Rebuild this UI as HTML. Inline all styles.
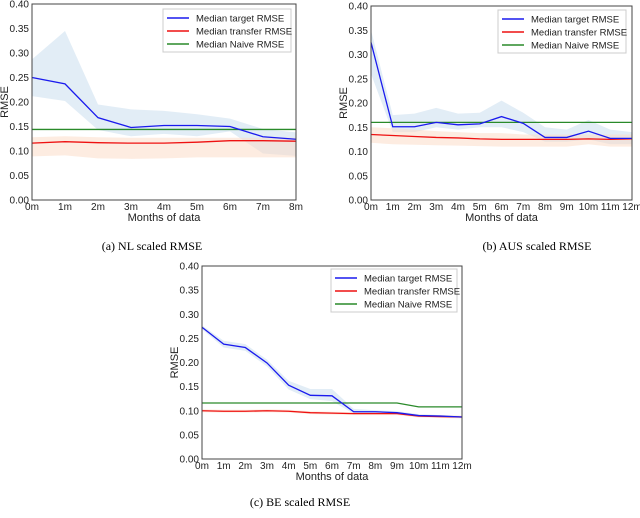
<!DOCTYPE html>
<html><head><meta charset="utf-8"><style>
body{margin:0;background:#fff;width:640px;height:513px;overflow:hidden}
svg{font-family:"Liberation Sans",sans-serif}
.cap{font-family:"Liberation Serif",serif;font-size:12px}
</style></head><body>
<svg id="s" width="640" height="513"></svg>
<script>
const nlCats=["0m","1m","2m","3m","4m","5m","6m","7m","8m"];
const nlTarget=[.25,.237,.168,.148,.152,.152,.150,.129,.124];
const nlTargetHi=[.287,.345,.195,.185,.182,.175,.166,.145,.138];
const nlTargetLo=[.212,.202,.143,.130,.135,.130,.140,.095,.09];
const nlTransfer=[.116,.119,.117,.116,.116,.118,.121,.121,.120];
const nlTransferHi=[.128,.130,.128,.127,.127,.127,.127,.127,.127];
const nlTransferLo=[.089,.091,.085,.084,.085,.087,.087,.087,.087];
const nlNaive=[.144,.144,.144,.144,.144,.144,.144,.144,.144];

const ausCats=["0m","1m","2m","3m","4m","5m","6m","7m","8m","9m","10m","11m","12m"];
const ausTarget=[.325,.151,.151,.16,.155,.157,.172,.158,.129,.129,.142,.127,.127];
const ausTargetHi=[.35,.175,.178,.19,.178,.18,.205,.18,.15,.145,.165,.145,.14];
const ausTargetLo=[.26,.14,.14,.15,.145,.15,.15,.14,.12,.12,.125,.115,.115];
const ausTransfer=[.135,.133,.131,.129,.128,.126,.125,.125,.125,.125,.126,.125,.126];
const ausTransferHi=[.15,.148,.145,.142,.14,.138,.138,.135,.135,.135,.135,.135,.135];
const ausTransferLo=[.118,.115,.114,.113,.112,.111,.11,.11,.11,.11,.115,.11,.11];
const ausNaive=[.16,.16,.16,.16,.16,.16,.16,.16,.16,.16,.16,.16,.16];

const beCats=ausCats;
const beTarget=[.273,.238,.231,.199,.153,.132,.131,.098,.098,.096,.09,.089,.087];
const beTargetHi=[.277,.245,.238,.206,.162,.145,.145,.104,.101,.099,.093,.091,.089];
const beTargetLo=[.269,.231,.224,.192,.144,.124,.120,.094,.095,.093,.087,.087,.085];
const beTransfer=[.100,.099,.099,.1,.099,.096,.095,.094,.094,.094,.089,.088,.087];
const beTransferHi=[.103,.102,.102,.103,.102,.099,.098,.097,.097,.097,.092,.091,.09];
const beTransferLo=[.097,.096,.096,.097,.096,.093,.092,.091,.091,.091,.086,.085,.084];
const beNaive=[.116,.116,.116,.116,.116,.116,.116,.116,.116,.116,.108,.108,.108];

const yTicks=["0.00","0.05","0.10","0.15","0.20","0.25","0.30","0.35","0.40"];
const NS="http://www.w3.org/2000/svg";
const S=document.getElementById('s');
function mk(t,a,p){const e=document.createElementNS(NS,t);for(const k in a)e.setAttribute(k,a[k]);(p||S).appendChild(e);return e;}

function chart(id,L,R,T,B,cats,tg,tgH,tgL,tr,trH,trL,nv,leg,cap,capX,capY){
  const g=mk('g',{});
  
  
  const n=cats.length;
  const x=i=>L+(R-L)*i/(n-1);
  const y=v=>B-(B-T)*v/0.4;
  const band=(hi,lo,col,nm)=>{let d='M'+hi.map((v,i)=>x(i)+','+y(v)).join('L')+'L'+lo.map((v,i)=>[i,v]).reverse().map(p=>x(p[0])+','+y(p[1])).join('L')+'Z';
    const e=mk('path',{d:d,fill:col,opacity:.5},g);};
  band(tgH,tgL,'#c6dcee','target-band');
  band(trH,trL,'#fbd9c3','transfer-band');
  const line=(a,col,nm)=>{const e=mk('polyline',{points:a.map((v,i)=>x(i)+','+y(v)).join(' '),fill:'none',stroke:col,'stroke-width':1.3},g);};
  line(nv,'#2a8a2a','naive-line');
  line(tr,'#ee1111','transfer-line');
  line(tg,'#1a1aee','target-line');
  const fr=mk('rect',{x:L,y:T,width:R-L,height:B-T,fill:'none',stroke:'#444','stroke-width':1},g);
  
  yTicks.forEach((t,i)=>{const e=mk('text',{x:L-3,y:y(+t)+3.5,'text-anchor':'end','font-size':10,fill:'#222'},g);e.textContent=t;});
  cats.forEach((c,i)=>{const e=mk('text',{x:x(i),y:B+10,'text-anchor':'middle','font-size':10,fill:'#222'},g);e.textContent=c;});
  let e=mk('text',{x:(L+R)/2,y:B+21,'text-anchor':'middle','font-size':11,fill:'#222'},g);e.textContent='Months of data';
  e=mk('text',{transform:`translate(${L-24},${(T+B)/2}) rotate(-90)`,'text-anchor':'middle','font-size':11,fill:'#222'},g);e.textContent='RMSE';
  const lg=mk('g',{},g);
  mk('rect',{x:leg[0],y:leg[1],width:leg[2],height:43,fill:'#fff',stroke:'#ccc'},lg);
  [['Median target RMSE','#1a1aee'],['Median transfer RMSE','#ee1111'],['Median Naive RMSE','#2a8a2a']].forEach((it,k)=>{
    const yy=leg[1]+9+k*13;
    mk('line',{x1:leg[0]+4,x2:leg[0]+26,y1:yy,y2:yy,stroke:it[1],'stroke-width':1.5},lg);
    const t=mk('text',{x:leg[0]+33,y:yy+3.5,'font-size':9.5,fill:'#222'},lg);t.textContent=it[0];
  });
  e=mk('text',{x:capX,y:capY,'text-anchor':'middle',class:'cap'},g);e.textContent=cap;
}
chart('chart-nl',32,296,4,200,nlCats,nlTarget,nlTargetHi,nlTargetLo,nlTransfer,nlTransferHi,nlTransferLo,nlNaive,[163,9,128],'(a) NL scaled RMSE',152,250);
chart('chart-aus',371,632,6,200,ausCats,ausTarget,ausTargetHi,ausTargetLo,ausTransfer,ausTransferHi,ausTransferLo,ausNaive,[498,10,128],'(b) AUS scaled RMSE',537,250);
chart('chart-be',202,462,266,459,beCats,beTarget,beTargetHi,beTargetLo,beTransfer,beTransferHi,beTransferLo,beNaive,[331,269,126],'(c) BE scaled RMSE',300,506);
</script>
</body></html>
